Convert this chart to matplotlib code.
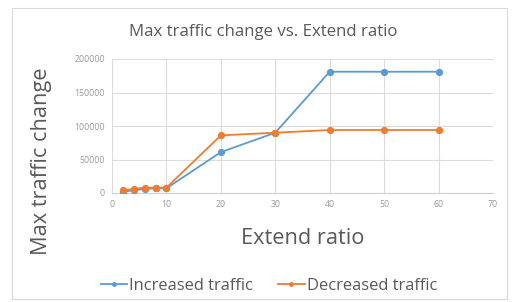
import matplotlib
matplotlib.use("Agg")
import matplotlib.pyplot as plt
from matplotlib.patches import Rectangle

plt.rcParams['font.family'] = ['Open Sans', 'DejaVu Sans']

extend_ratio = [2, 4, 6, 8, 10, 20, 30, 40, 50, 60]
increased = [2000, 4000, 6000, 7000, 7000, 61000, 90000, 181000, 181000, 181000]
decreased = [4000, 6000, 8000, 8000, 8000, 86000, 90000, 94000, 94000, 94000]
x_ticks = [0, 10, 20, 30, 40, 50, 60, 70]
y_ticks = [0, 50000, 100000, 150000, 200000]

W, H = 513, 302
fig = plt.figure(figsize=(W / 100, H / 100), dpi=100)
fig.patch.set_facecolor('white')

# chart area border
fig.add_artist(Rectangle((12 / W, 1 - 299 / H), 495 / W, 291 / H,
                         transform=fig.transFigure, fill=False,
                         edgecolor='#D9D9D9', linewidth=0.8))

ax = fig.add_axes([112 / W, 1 - 193 / H, 381 / W, 134 / H])
blue = '#5B9BD5'
orange = '#ED7D31'
ax.plot(extend_ratio, increased, color=blue, lw=1.3, marker='o', ms=4.2,
        label='Increased traffic', zorder=3)
ax.plot(extend_ratio, decreased, color=orange, lw=1.3, marker='o', ms=4.2,
        label='Decreased traffic', zorder=3)

ax.set_xlim(0, 70)
ax.set_ylim(0, 200000)
ax.set_xticks(x_ticks)
ax.set_yticks(y_ticks)
ax.set_xticklabels([str(v) for v in x_ticks])
ax.set_yticklabels([str(v) for v in y_ticks])
ax.tick_params(length=0, labelsize=6.3, colors='#9A9A9A', pad=5)
ax.grid(True, color='#DCDCDC', lw=0.8)
ax.set_axisbelow(True)
for s in ['top', 'right', 'left']:
    ax.spines[s].set_visible(False)
ax.spines['bottom'].set_color('#D0D0D0')
ax.spines['bottom'].set_linewidth(0.8)

fig.text(263 / W, 1 - 32 / H, 'Max traffic change vs. Extend ratio',
         ha='center', va='center', fontsize=12.1, color='#595959')
fig.text(42 / W, 1 - 161 / H, 'Max traffic change', rotation=90,
         ha='center', va='center', fontsize=15.7, color='#595959')
fig.text(303 / W, 1 - 238 / H, 'Extend ratio',
         ha='center', va='center', fontsize=15.7, color='#595959')

leg = fig.legend(loc='center', bbox_to_anchor=(269 / W, 1 - 286 / H),
                 ncol=2, frameon=False, fontsize=11.9, labelcolor='#595959',
                 handlelength=1.6, handletextpad=0.15, columnspacing=1.5,
                 markerscale=0.6)

fig.savefig('out.png', dpi=100)
